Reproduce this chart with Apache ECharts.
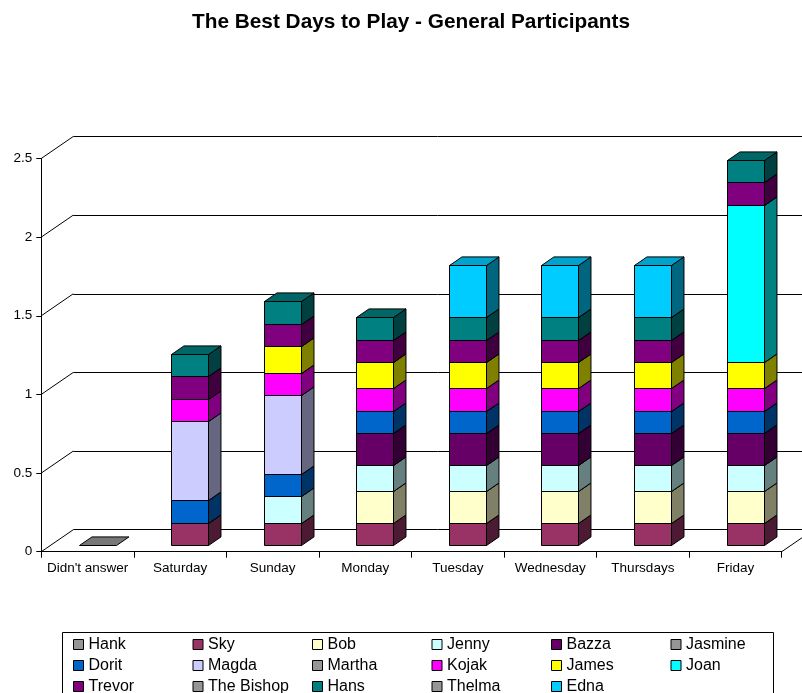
<!DOCTYPE html>
<html>
<head>
<meta charset="utf-8">
<script src="https://cdn.jsdelivr.net/npm/echarts@6/dist/echarts.min.js"></script>
<style>
  html, body { margin: 0; padding: 0; background: #ffffff; }
  #chart { width: 802px; height: 693px; }
</style>
</head>
<body>
<div id="chart"></div>
<script>
// Categories and axis ticks
const categories = ["Didn't answer", 'Saturday', 'Sunday', 'Monday', 'Tuesday', 'Wednesday', 'Thursdays', 'Friday'];
const yTicks = [0, 0.5, 1, 1.5, 2, 2.5];

// Votes per participant and day (null = no vote)
const hank      = [0,    null,  null,  null,  null,  null,  null,  null];
const sky       = [null, 0.143, 0.143, 0.143, 0.143, 0.143, 0.143, 0.143];
const bob       = [null, null,  null,  0.2,   0.2,   0.2,   0.2,   0.2];
const jenny     = [null, null,  0.167, 0.167, 0.167, 0.167, 0.167, 0.167];
const bazza     = [null, null,  null,  0.2,   0.2,   0.2,   0.2,   0.2];
const jasmine   = [null, null,  null,  null,  null,  null,  null,  null];
const dorit     = [null, 0.143, 0.143, 0.143, 0.143, 0.143, 0.143, 0.143];
const magda     = [null, 0.5,   0.5,   null,  null,  null,  null,  null];
const martha    = [null, null,  null,  null,  null,  null,  null,  null];
const kojak     = [null, 0.143, 0.143, 0.143, 0.143, 0.143, 0.143, 0.143];
const james     = [null, null,  0.167, 0.167, 0.167, 0.167, 0.167, 0.167];
const joan      = [null, null,  null,  null,  null,  null,  null,  1.0];
const trevor    = [null, 0.143, 0.143, 0.143, 0.143, 0.143, 0.143, 0.143];
const theBishop = [null, null,  null,  null,  null,  null,  null,  null];
const hans      = [null, 0.143, 0.143, 0.143, 0.143, 0.143, 0.143, 0.143];
const thelma    = [null, null,  null,  null,  null,  null,  null,  null];
const edna      = [null, null,  null,  null,  0.333, 0.333, 0.333, null];

const people = [
  { name: 'Hank',       values: hank,      color: '#969696' },
  { name: 'Sky',        values: sky,       color: '#993366' },
  { name: 'Bob',        values: bob,       color: '#FFFFCC' },
  { name: 'Jenny',      values: jenny,     color: '#CCFFFF' },
  { name: 'Bazza',      values: bazza,     color: '#660066' },
  { name: 'Jasmine',    values: jasmine,   color: '#969696' },
  { name: 'Dorit',      values: dorit,     color: '#0066CC' },
  { name: 'Magda',      values: magda,     color: '#CCCCFF' },
  { name: 'Martha',     values: martha,    color: '#969696' },
  { name: 'Kojak',      values: kojak,     color: '#FF00FF' },
  { name: 'James',      values: james,     color: '#FFFF00' },
  { name: 'Joan',       values: joan,      color: '#00FFFF' },
  { name: 'Trevor',     values: trevor,    color: '#800080' },
  { name: 'The Bishop', values: theBishop, color: '#969696' },
  { name: 'Hans',       values: hans,      color: '#008080' },
  { name: 'Thelma',     values: thelma,    color: '#969696' },
  { name: 'Edna',       values: edna,      color: '#00CCFF' }
];

// Oblique projection of the 3D box
const DEPTH_X = 32, DEPTH_Y = 22;     // floor depth in pixels
const BAR_FRONT = 0.3, BAR_BACK = 0.69; // bar position inside the depth
const BAR_WIDTH = 0.4;                  // share of the category band
const FONT = '"Liberation Sans", Arial, sans-serif';

const plot = { left: 41.3, right: 20.3, top: 158.45, bottom: 141.3 };

function shade(hex, k) {
  const n = parseInt(hex.slice(1), 16);
  const r = Math.round(((n >> 16) & 255) * k);
  const g = Math.round(((n >> 8) & 255) * k);
  const b = Math.round((n & 255) * k);
  return 'rgb(' + r + ',' + g + ',' + b + ')';
}
const crisp = v => Math.round(v) + 0.5;

function renderBlock(params, api) {
  const cat = api.value(0), lo = api.value(1), hi = api.value(2);
  const color = people[params.seriesIndex - 1].color;
  const band = api.size([1, 0])[0];
  const pLo = api.coord([cat, lo]);
  const pHi = api.coord([cat, hi]);
  const w = band * BAR_WIDTH;
  const fx = BAR_FRONT * DEPTH_X, fy = BAR_FRONT * DEPTH_Y;
  const dx = (BAR_BACK - BAR_FRONT) * DEPTH_X, dy = (BAR_BACK - BAR_FRONT) * DEPTH_Y;
  const x0 = crisp(pLo[0] + fx - w / 2), x1 = crisp(pLo[0] + fx + w / 2);
  const yB = crisp(pLo[1] - fy), yT = crisp(pHi[1] - fy);
  const line = { stroke: '#000', lineWidth: 1 };
  const children = [];
  if (hi > lo) {
    children.push({ type: 'polygon', shape: { points: [[x0, yB], [x1, yB], [x1, yT], [x0, yT]] },
      style: Object.assign({ fill: color }, line) });
    children.push({ type: 'polygon', shape: { points: [[x1, yB], [x1 + dx, yB - dy], [x1 + dx, yT - dy], [x1, yT]] },
      style: Object.assign({ fill: shade(color, 0.5) }, line) });
  }
  children.push({ type: 'polygon', shape: { points: [[x0, yT], [x1, yT], [x1 + dx, yT - dy], [x0 + dx, yT - dy]] },
    style: Object.assign({ fill: shade(color, 0.8) }, line) });
  return { type: 'group', children: children };
}

function renderWall(params, api) {
  const v = api.value(0);
  const cs = params.coordSys;
  const y = api.coord([0, v])[1];
  const line = { stroke: '#000', lineWidth: 1 };
  const children = [{ type: 'line', shape: { x1: cs.x, y1: y, x2: cs.x + DEPTH_X, y2: y - DEPTH_Y }, style: line }];
  if (v === 0) {
    const xr = cs.x + cs.width;
    children.push({ type: 'line', shape: { x1: xr, y1: y, x2: xr + DEPTH_X, y2: y - DEPTH_Y }, style: line });
  }
  return { type: 'group', children: children };
}

// Stack the segments per day
const base = categories.map(() => 0);
const barSeries = people.map(p => {
  const data = [];
  p.values.forEach((v, i) => {
    if (v === null || v === undefined) return;
    data.push([i, base[i], base[i] + v]);
    base[i] += v;
  });
  return {
    type: 'custom', name: p.name, xAxisIndex: 0, yAxisIndex: 0,
    itemStyle: { color: p.color, borderColor: '#000', borderWidth: 1 },
    renderItem: renderBlock, data: data, encode: { x: 0, y: [1, 2] }, z: 5
  };
});

const chart = echarts.init(document.getElementById('chart'), null, { renderer: 'canvas' });
const frontHeight = 693 - plot.top - plot.bottom;
const frontWidth = 802 - plot.left - plot.right;

chart.setOption({
  animation: false,
  backgroundColor: '#ffffff',
  title: {
    text: 'The Best Days to Play - General Participants',
    left: 192, top: 12, padding: 0,
    textStyle: { fontFamily: FONT, fontSize: 20.8, fontWeight: 'bold', color: '#000' }
  },
  legend: {
    left: 73, top: 636.5, width: 760, padding: 0,
    itemWidth: 10, itemHeight: 10, itemGap: 5, icon: 'rect',
    itemStyle: { borderColor: '#000', borderWidth: 1 },
    textStyle: { fontFamily: FONT, fontSize: 16, color: '#000', width: 99, lineHeight: 15 },
    data: people.map(p => p.name)
  },
  graphic: [{
    type: 'rect', silent: true, z: -1,
    shape: { x: 62.5, y: 632.5, width: 711, height: 80 },
    style: { fill: '#fff', stroke: '#000', lineWidth: 1 }
  }],
  grid: [
    { left: plot.left, top: plot.top, width: frontWidth, height: frontHeight },
    { left: plot.left + DEPTH_X, top: plot.top - DEPTH_Y, width: frontWidth, height: frontHeight }
  ],
  xAxis: [
    {
      type: 'category', gridIndex: 0, data: categories,
      axisLine: { lineStyle: { color: '#000', width: 1 } },
      axisTick: { show: true, length: 6, interval: 0, lineStyle: { color: '#000' } },
      axisLabel: { interval: 0, margin: 10, fontFamily: FONT, fontSize: 13.5, color: '#000' },
      splitLine: { show: false }
    },
    {
      type: 'category', gridIndex: 1, data: categories,
      axisLine: { show: false }, axisTick: { show: false }, axisLabel: { show: false }, splitLine: { show: false }
    }
  ],
  yAxis: [
    {
      type: 'value', gridIndex: 0, min: 0, max: 2.5, interval: 0.5,
      axisLine: { show: true, lineStyle: { color: '#000', width: 1 } },
      axisTick: { show: true, length: 5, lineStyle: { color: '#000' } },
      axisLabel: { margin: 9, fontFamily: FONT, fontSize: 13.5, color: '#000',
        formatter: v => String(v) },
      splitLine: { show: false }
    },
    {
      type: 'value', gridIndex: 1, min: 0, max: 2.5, interval: 0.5,
      axisLine: { show: false }, axisTick: { show: false }, axisLabel: { show: false },
      splitLine: { show: true, lineStyle: { color: '#000', width: 1 } }
    }
  ],
  series: [
    {
      type: 'custom', name: 'walls', xAxisIndex: 0, yAxisIndex: 0,
      renderItem: renderWall, data: yTicks.map(v => [v]), encode: { y: 0 }, z: 2, silent: true
    }
  ].concat(barSeries)
});
</script>
</body>
</html>
